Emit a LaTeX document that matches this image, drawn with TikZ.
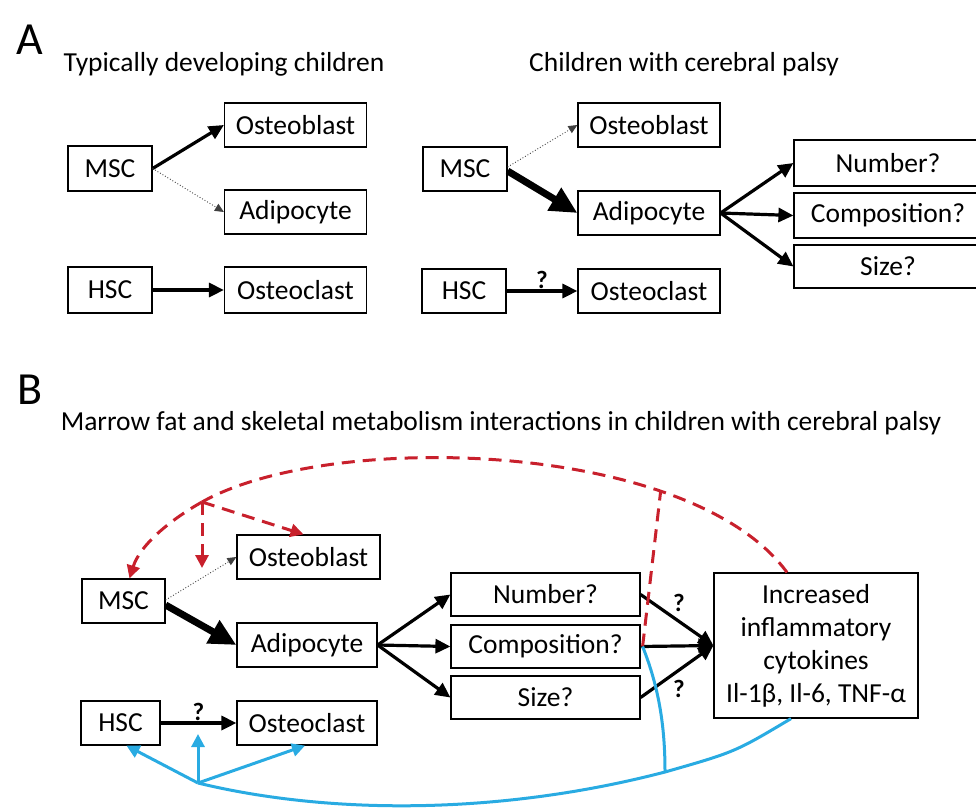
\documentclass[tikz,border=0pt]{standalone}
\usepackage{fontspec}
\setmainfont{Carlito}
\usetikzlibrary{positioning,arrows.meta}
\definecolor{fatred}{RGB}{200,32,44}
\definecolor{boneblue}{RGB}{41,171,226}

\begin{document}
\begin{tikzpicture} [x=1pt, y=-1pt, node distance=185pt,
  cell/.style={rectangle, draw, line width=1.2pt, minimum width=142pt, minimum height=44pt, inner sep=0pt, font=\fontsize{27.5}{33}\selectfont},
  stem/.style={cell, minimum width=84pt},
  trait/.style={cell, minimum width=189pt},
  heading/.style={font=\fontsize{27.5}{33}\selectfont},
  panel/.style={font=\fontsize{46}{50}\selectfont},
  query/.style={font=\bfseries\fontsize{25}{30}\selectfont, inner sep=1pt},
  strong/.style={-{Triangle[length=15pt,width=14pt]}, line width=3.2pt},
  heavy/.style={-{Triangle[length=27pt,width=25pt]}, line width=7pt},
  weak/.style={-{Triangle[length=9pt,width=8pt]}, dotted, line width=0.9pt, black!75},
  signal/.style={-{Triangle[length=13pt,width=13pt]}, fatred, dash pattern=on 13pt off 8pt, line width=3pt},
  feedback/.style={-{Triangle[length=13pt,width=13pt]}, boneblue, line width=3pt}]
\useasboundingbox (0,0) rectangle (976,809);
  %% Panel A
  \node [panel] (labA) at (30,40) {A};
  \node [heading] (titleTD) at (224,64) {Typically developing children};
  \node [heading] (titleCP) at (684,64) {Children with cerebral palsy};
  % typically developing
  \node [stem, minimum height=46pt] (tdHSC) at (110,290) {HSC};
  \node [cell, minimum height=46pt, right of=tdHSC, node distance=185.5pt] (tdOC) {Osteoclast};
  \node [cell, above of=tdOC, node distance=78pt] (tdAD) {Adipocyte};
  \node [cell, above of=tdAD, node distance=87pt] (tdOB) {Osteoblast};
  \node [stem, minimum height=45pt] (tdMSC) at (110,168.5) {MSC};
  % cerebral palsy
  \node [stem] (cpHSC) at (464,291) {HSC};
  \node [cell, right of=cpHSC] (cpOC) {Osteoclast};
  \node [cell, above of=cpOC, node distance=78pt] (cpAD) {Adipocyte};
  \node [cell, above of=cpAD, node distance=88pt] (cpOB) {Osteoblast};
  \node [stem] (cpMSC) at (465,169) {MSC};
  \node [trait, minimum width=188pt, minimum height=45pt] (cpComp) at (888,215.5) {Composition?};
  \node [trait, minimum width=188pt, minimum height=46pt, above of=cpComp, node distance=52.5pt] (cpNum) {Number?};
  \node [trait, minimum width=188pt, minimum height=43pt, below of=cpComp, node distance=51pt] (cpSize) {Size?};
  % Draw edges
  \draw [strong] (tdMSC.east) -- (tdOB.west);
  \draw [weak] (tdMSC.east) -- (tdAD.west);
  \draw [strong] (tdHSC) -- (tdOC);
  \draw [weak] ([yshift=2pt]cpMSC.east) -- (cpOB.west);
  \draw [heavy] ([yshift=-2pt]cpMSC.east) -- (cpAD.west);
  \draw [strong] (cpAD.east) -- (cpNum.west);
  \draw [strong] (cpAD.east) -- (cpComp.west);
  \draw [strong] (cpAD.east) -- (cpSize.west);
  \draw [strong] (cpHSC) -- node[query, above] (cpQ) {?} (cpOC);

  %% Panel B
  \node [panel] (labB) at (30,390) {B};
  \node [heading] (titleB) at (501,423) {Marrow fat and skeletal metabolism interactions in children with cerebral palsy};
  \node [stem, minimum width=79pt] (bHSC) at (120.5,723) {HSC};
  \node [cell, minimum width=140pt, right of=bHSC, node distance=186.5pt] (bOC) {Osteoclast};
  \node [cell, minimum width=140pt, above of=bOC, node distance=78pt] (bAD) {Adipocyte};
  \node [cell, minimum width=143pt, above of=bAD, node distance=88pt, xshift=1.5pt] (bOB) {Osteoblast};
  \node [stem, minimum width=83pt] (bMSC) at (123.5,601) {MSC};
  \node [trait, minimum height=43pt] (bComp) at (545.5,646.5) {Composition?};
  \node [trait, minimum height=43pt, above of=bComp, node distance=52pt] (bNum) {Number?};
  \node [trait, minimum height=43pt, below of=bComp, node distance=51pt] (bSize) {Size?};
  \node [cell, minimum width=204pt, minimum height=145pt, align=center] (bCyt) at (816,645.5) {Increased\\inflammatory\\cytokines\\Il-1β, Il-6, TNF-α};
  \coordinate (rhub) at (202,502);
  \coordinate (rdrop) at (202,568);
  \coordinate (bhub) at (198,783);
  \coordinate (bup) at (198,734);
  \coordinate (bjoin) at (665,772);
  % Draw edges
  \draw [weak] ([yshift=1pt]bMSC.east) -- (bOB.west);
  \draw [heavy] ([yshift=-4pt]bMSC.east) -- (bAD.west);
  \draw [strong] (bAD.east) -- (bNum.west);
  \draw [strong] (bAD.east) -- (bComp.west);
  \draw [strong] (bAD.east) -- (bSize.west);
  \draw [strong] (bHSC) -- node[query, above] (bQ) {?} (bOC);
  \draw [strong] (bNum.east) -- node[query, pos=0.4, above right=1pt] (numQ) {?} (bCyt.west);
  \draw [strong] (bComp.east) -- (bCyt.west);
  \draw [strong] (bSize.east) -- node[query, pos=0.4, below right=1pt] (sizeQ) {?} (bCyt.west);
  % fat signals
  \draw [signal, -] ([xshift=-29pt]bCyt.north) .. controls (690,440) and (330,430) .. coordinate[pos=0.27] (rjoin) (rhub);
  \draw [signal, -] ([xshift=2pt]bComp.east) -- (rjoin);
  \draw [signal] (rhub) .. controls (170,520) and (140,545) .. ([xshift=6pt]bMSC.north);
  \draw [signal] (rhub) -- (rdrop);
  \draw [signal] (rhub) -- ([xshift=-5pt]bOB.north);
  % cytokine feedback
  \draw [feedback, -] ([xshift=-25pt]bCyt.south) .. controls (735,752) .. (bjoin) .. controls (500,815) and (330,815) .. (bhub);
  \draw [feedback, -] ([xshift=2pt]bComp.east) .. controls (660,690) and (665,730) .. (bjoin);
  \draw [feedback] (bhub) -- ([xshift=6pt]bHSC.south);
  \draw [feedback] (bhub) -- (bup);
  \draw [feedback] (bhub) -- ([xshift=-2pt]bOC.south);
\end{tikzpicture}
\end{document}
